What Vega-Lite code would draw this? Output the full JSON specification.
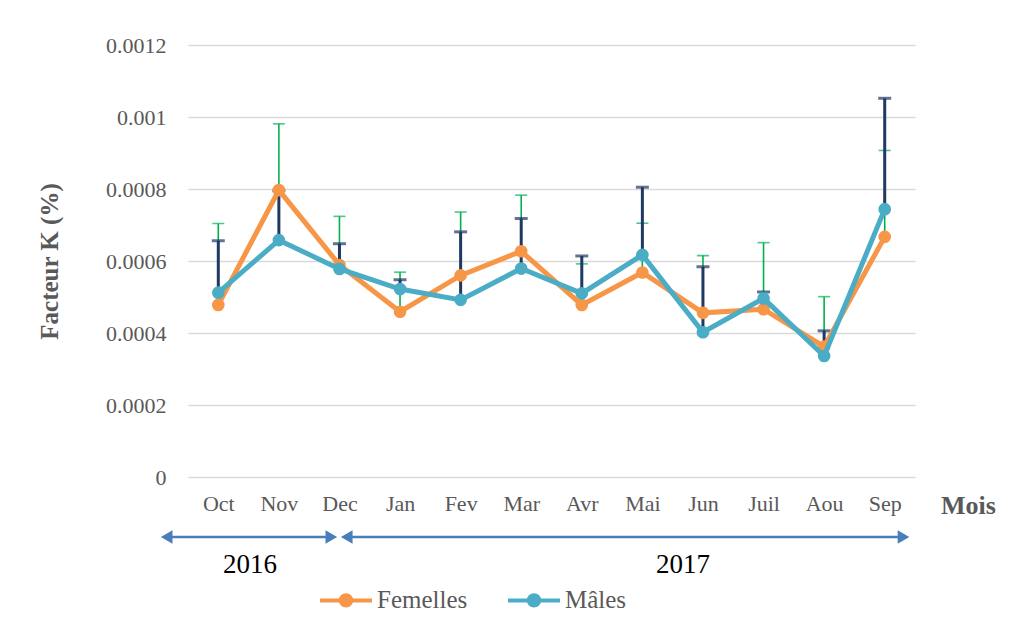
{
  "$schema": "https://vega.github.io/schema/vega-lite/v6.json",
  "width": 727,
  "height": 432,
  "autosize": {"type": "none"},
  "padding": {"left": 188, "top": 45, "right": 101, "bottom": 148},
  "background": "white",
  "config": {
    "view": {"stroke": null},
    "font": "Liberation Serif"
  },
  "layer": [
    {
      "data": {
        "values": [
          {"mois": "Oct", "sexe": "Femelles", "k": 0.000478, "haut": 0.000704},
          {"mois": "Oct", "sexe": "Mâles", "k": 0.000512, "haut": 0.000656},
          {"mois": "Nov", "sexe": "Femelles", "k": 0.000797, "haut": 0.000981},
          {"mois": "Nov", "sexe": "Mâles", "k": 0.000658, "haut": 0.000795},
          {"mois": "Dec", "sexe": "Femelles", "k": 0.000589, "haut": 0.000724},
          {"mois": "Dec", "sexe": "Mâles", "k": 0.000578, "haut": 0.000648},
          {"mois": "Jan", "sexe": "Femelles", "k": 0.000459, "haut": 0.000569},
          {"mois": "Jan", "sexe": "Mâles", "k": 0.000522, "haut": 0.000548},
          {"mois": "Fev", "sexe": "Femelles", "k": 0.00056, "haut": 0.000736},
          {"mois": "Fev", "sexe": "Mâles", "k": 0.000492, "haut": 0.000681},
          {"mois": "Mar", "sexe": "Femelles", "k": 0.000627, "haut": 0.000783},
          {"mois": "Mar", "sexe": "Mâles", "k": 0.000579, "haut": 0.000718},
          {"mois": "Avr", "sexe": "Femelles", "k": 0.000478, "haut": 0.000592},
          {"mois": "Avr", "sexe": "Mâles", "k": 0.00051, "haut": 0.000614},
          {"mois": "Mai", "sexe": "Femelles", "k": 0.000568, "haut": 0.000705},
          {"mois": "Mai", "sexe": "Mâles", "k": 0.000617, "haut": 0.000805},
          {"mois": "Jun", "sexe": "Femelles", "k": 0.000456, "haut": 0.000615},
          {"mois": "Jun", "sexe": "Mâles", "k": 0.000402, "haut": 0.000584},
          {"mois": "Juil", "sexe": "Femelles", "k": 0.000466, "haut": 0.000651},
          {"mois": "Juil", "sexe": "Mâles", "k": 0.000496, "haut": 0.000514},
          {"mois": "Aou", "sexe": "Femelles", "k": 0.000362, "haut": 0.000501},
          {"mois": "Aou", "sexe": "Mâles", "k": 0.000336, "haut": 0.000406},
          {"mois": "Sep", "sexe": "Femelles", "k": 0.000667, "haut": 0.000907},
          {"mois": "Sep", "sexe": "Mâles", "k": 0.000744, "haut": 0.001052}
        ]
      },
      "encoding": {
        "x": {
          "field": "mois",
          "type": "nominal",
          "sort": ["Oct", "Nov", "Dec", "Jan", "Fev", "Mar", "Avr", "Mai", "Jun", "Juil", "Aou", "Sep"],
          "scale": {"type": "point", "padding": 0.5},
          "axis": {
            "title": "Mois",
            "titleFont": "Liberation Serif",
            "titleFontSize": 26,
            "titleFontWeight": "bold",
            "titleColor": "#595959",
            "titleX": 780,
            "titleY": 36,
            "titleAlign": "center",
            "titleBaseline": "alphabetic",
            "labelFont": "Liberation Serif",
            "labelFontSize": 22,
            "labelColor": "#595959",
            "labelAngle": 0,
            "labelPadding": 16,
            "ticks": false,
            "domain": false,
            "grid": false
          }
        },
        "y": {
          "field": "k",
          "type": "quantitative",
          "scale": {"domain": [0, 0.0012], "nice": false, "zero": true},
          "axis": {
            "title": "Facteur K (%)",
            "titleFont": "Liberation Serif",
            "titleFontSize": 25,
            "titleFontWeight": "bold",
            "titleColor": "#595959",
            "titleX": -139,
            "titleBaseline": "middle",
            "values": [0, 0.0002, 0.0004, 0.0006, 0.0008, 0.001, 0.0012],
            "format": "~g",
            "labelFont": "Liberation Serif",
            "labelFontSize": 22,
            "labelColor": "#595959",
            "labelPadding": 22,
            "ticks": false,
            "domain": false,
            "grid": true,
            "gridColor": "#D9D9D9",
            "gridWidth": 1.3
          }
        }
      },
      "layer": [
        {
          "transform": [{"filter": "datum.sexe === 'Femelles'"}],
          "mark": {"type": "rule", "color": "#00B050", "strokeWidth": 1.6},
          "encoding": {"y2": {"field": "haut"}}
        },
        {
          "transform": [{"filter": "datum.sexe === 'Femelles'"}],
          "mark": {"type": "tick", "color": "#00B050", "size": 12, "thickness": 1.6, "orient": "horizontal"},
          "encoding": {"y": {"field": "haut", "type": "quantitative"}}
        },
        {
          "transform": [{"filter": "datum.sexe === 'Mâles'"}],
          "mark": {"type": "rule", "color": "#1F3864", "strokeWidth": 3},
          "encoding": {"y2": {"field": "haut"}}
        },
        {
          "transform": [{"filter": "datum.sexe === 'Mâles'"}],
          "mark": {"type": "tick", "color": "#1F3864", "size": 13, "thickness": 3, "orient": "horizontal"},
          "encoding": {"y": {"field": "haut", "type": "quantitative"}}
        },
        {
          "transform": [{"filter": "datum.sexe === 'Femelles'"}],
          "mark": {"type": "line", "strokeWidth": 5},
          "encoding": {
            "color": {
              "field": "sexe",
              "type": "nominal",
              "scale": {"domain": ["Femelles", "Mâles"], "range": ["#F79646", "#4BACC6"]},
              "legend": {
                "title": null,
                "orient": "none",
                "direction": "horizontal",
                "legendX": 130,
                "legendY": 527,
                "padding": 0,
                "symbolType": "M-1,0L1,0M-0.2,0A0.2,0.2,0,1,1,0.2,0A0.2,0.2,0,1,1,-0.2,0Z",
                "symbolSize": 2704,
                "symbolStrokeWidth": 4,
                "labelFont": "Liberation Serif",
                "labelFontSize": 25,
                "labelColor": "#595959",
                "labelOffset": 3,
                "columnPadding": 32,
                "encode": {
                  "symbols": {
                    "update": {
                      "fill": {"scale": "color", "field": "value"},
                      "stroke": {"scale": "color", "field": "value"},
                      "strokeWidth": {"value": 4},
                      "opacity": {"value": 1},
                      "fillOpacity": {"value": 1}
                    }
                  }
                }
              }
            }
          }
        },
        {
          "transform": [{"filter": "datum.sexe === 'Femelles'"}],
          "mark": {"type": "point", "filled": true, "size": 160, "opacity": 1},
          "encoding": {"color": {"field": "sexe", "type": "nominal"}}
        },
        {
          "transform": [{"filter": "datum.sexe === 'Mâles'"}],
          "mark": {"type": "line", "strokeWidth": 5},
          "encoding": {"color": {"field": "sexe", "type": "nominal"}}
        },
        {
          "transform": [{"filter": "datum.sexe === 'Mâles'"}],
          "mark": {"type": "point", "filled": true, "size": 160, "opacity": 1},
          "encoding": {"color": {"field": "sexe", "type": "nominal"}}
        }
      ]
    },
    {
      "data": {
        "values": [
          {"annee": "2016", "debut": -0.852, "fin": 1.866, "centre": 0.523},
          {"annee": "2017", "debut": 2.12, "fin": 11.31, "centre": 7.67}
        ]
      },
      "encoding": {
        "y": {"datum": -0.0001667, "type": "quantitative"}
      },
      "layer": [
        {
          "mark": {"type": "rule", "color": "#4A7EBB", "strokeWidth": 2.5},
          "encoding": {
            "x": {"field": "debut", "type": "quantitative", "scale": {"domain": [-0.5, 11.5], "nice": false, "zero": false}, "axis": null},
            "x2": {"field": "fin"}
          }
        },
        {
          "mark": {"type": "point", "shape": "triangle-left", "filled": true, "size": 180, "color": "#4A7EBB", "opacity": 1},
          "encoding": {
            "x": {"field": "debut", "type": "quantitative"}
          }
        },
        {
          "mark": {"type": "point", "shape": "triangle-right", "filled": true, "size": 180, "color": "#4A7EBB", "opacity": 1},
          "encoding": {
            "x": {"field": "fin", "type": "quantitative"}
          }
        },
        {
          "mark": {"type": "text", "font": "Liberation Serif", "fontSize": 27, "color": "#000000", "baseline": "middle", "align": "center"},
          "encoding": {
            "x": {"field": "centre", "type": "quantitative"},
            "y": {"datum": -0.000244, "type": "quantitative"},
            "text": {"field": "annee"}
          }
        }
      ]
    }
  ],
  "resolve": {"scale": {"x": "independent"}}
}
